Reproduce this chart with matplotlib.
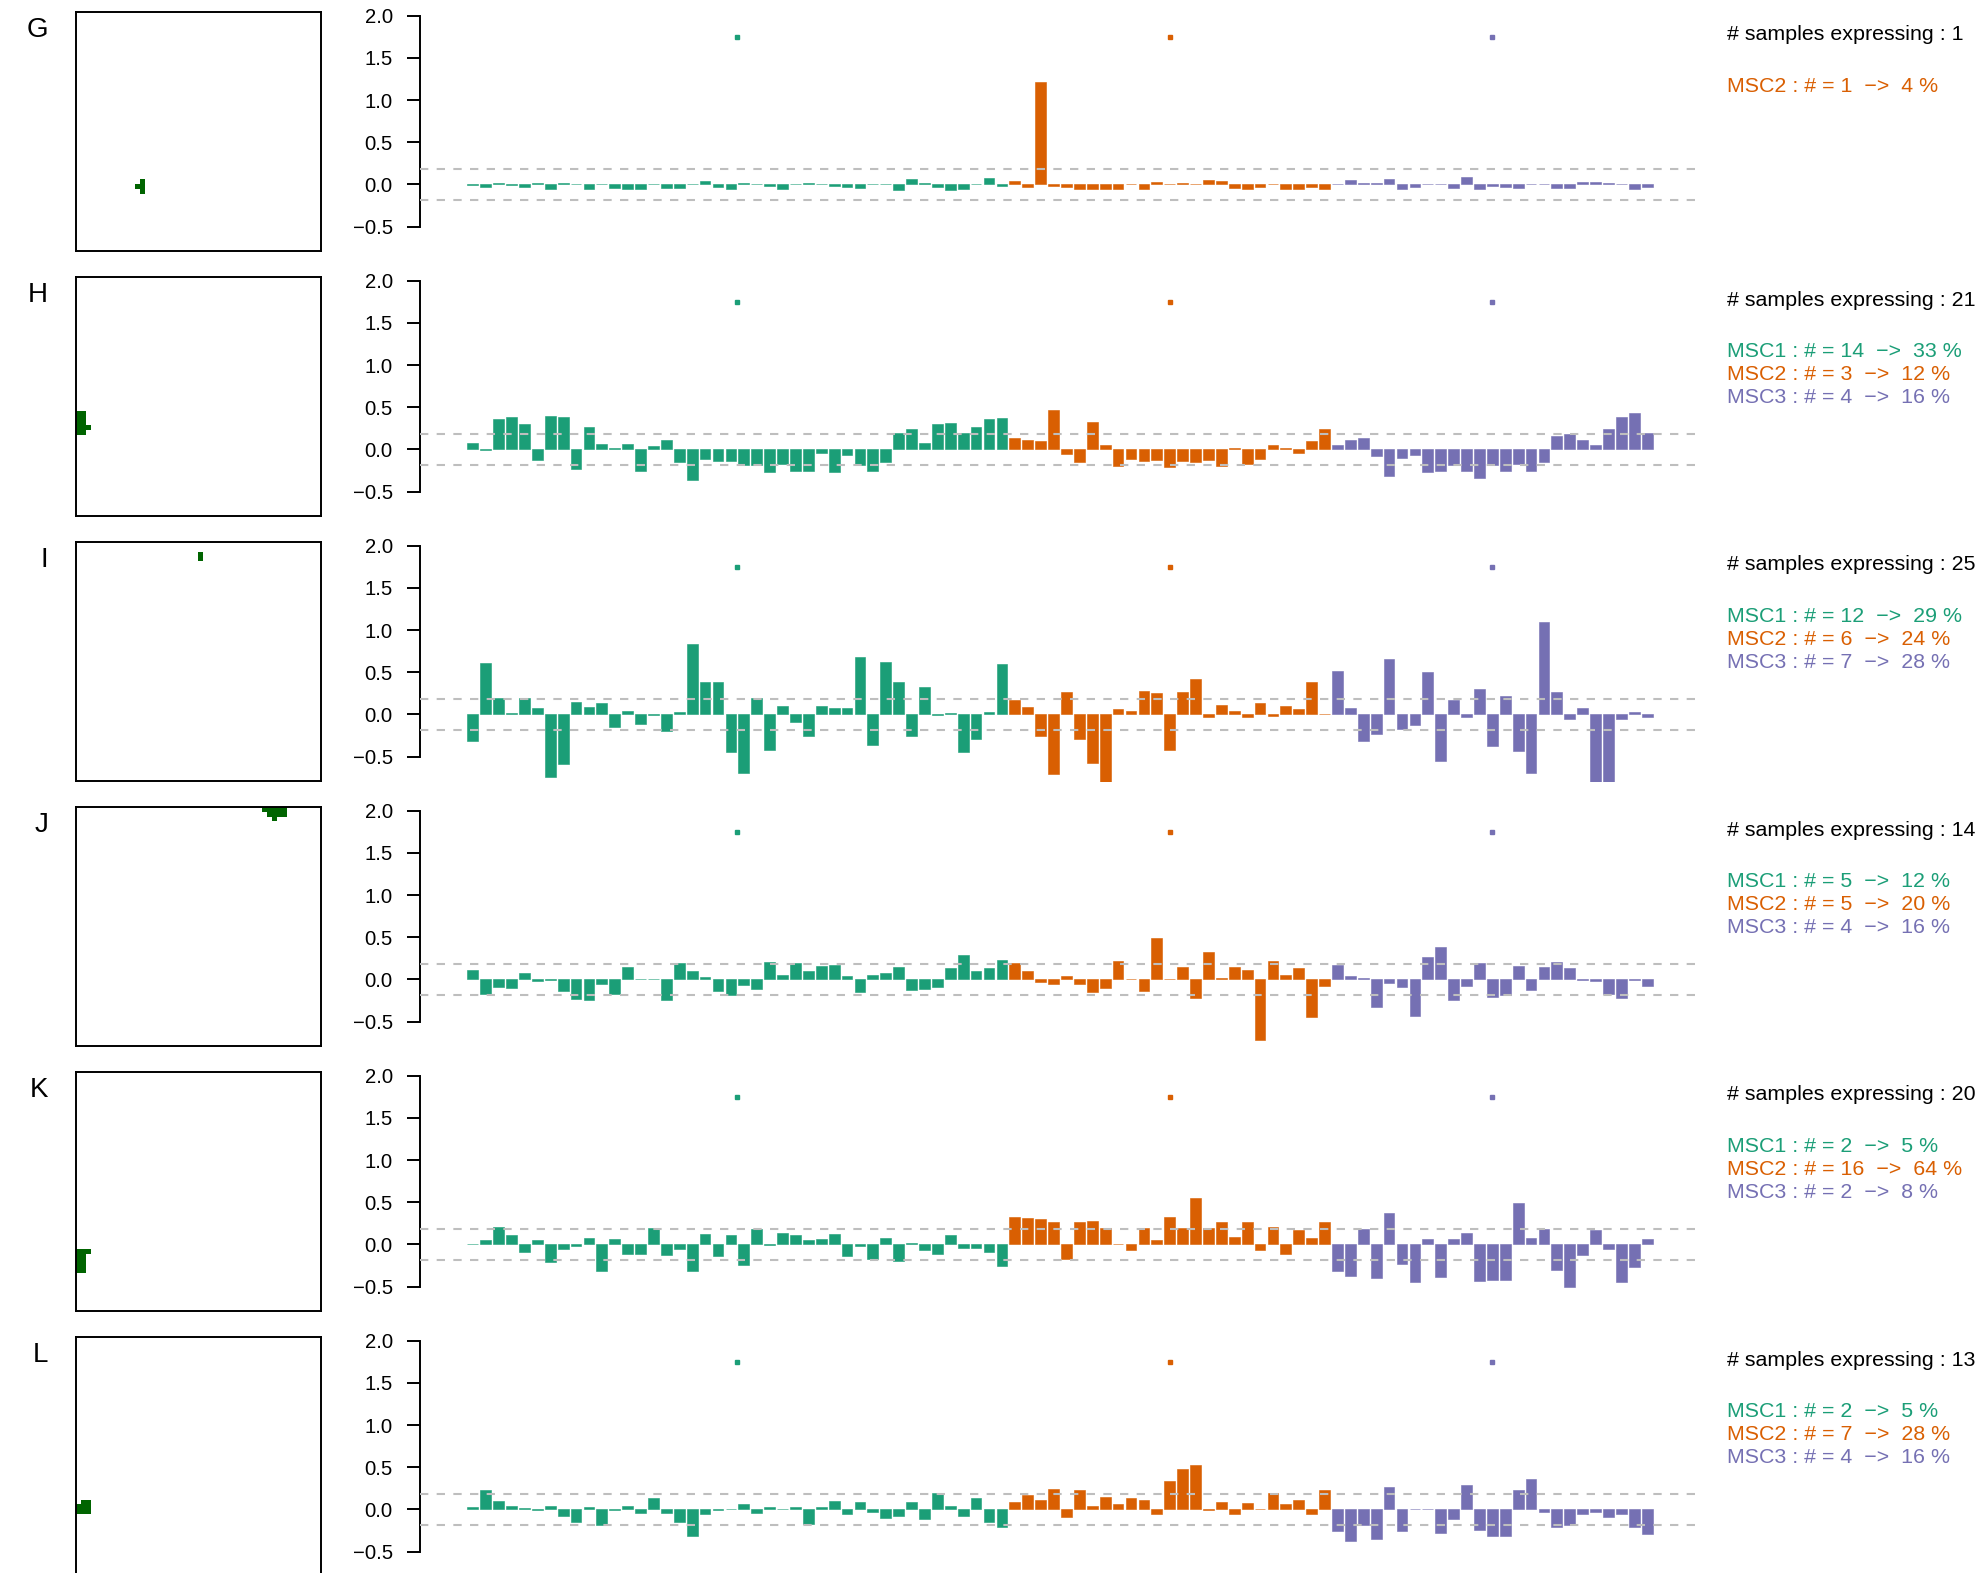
import matplotlib.pyplot as plt
import numpy as np
from matplotlib.colors import ListedColormap

plt.rcParams['font.family'] = ['Liberation Sans', 'DejaVu Sans']

# figure size in pixels, one panel row every 265 px
W, H = 1978, 1573
ROW_STEP = 265

panel_labels = ['G', 'H', 'I', 'J', 'K', 'L']
group_names = ['MSC1', 'MSC2', 'MSC3']
group_colors = ['#1B9E77', '#D95F02', '#7570B3']
group_sizes = [42, 25, 25]

# expression per sample, one list per group and panel
G_msc1 = [-0.01, -0.03, 0.02, -0.01, -0.03, 0.02, -0.05, 0.02, 0.01, -0.05, 0.01, -0.04, -0.05, -0.06,
          0.01, -0.04, -0.04, 0.01, 0.04, -0.03, -0.06, 0.02, 0.01, -0.02, -0.06, 0.01, 0.02, 0.01,
          -0.02, -0.03, -0.04, 0.01, 0.01, -0.07, 0.07, 0.02, -0.03, -0.07, -0.06, 0.01, 0.08, -0.02]
G_msc2 = [0.04, -0.03, 1.21, -0.02, -0.03, -0.05, -0.05, -0.05, -0.05, 0.01, -0.06, 0.03, 0.01,
          0.02, 0.01, 0.05, 0.04, -0.04, -0.05, -0.03, 0.01, -0.05, -0.06, -0.03, -0.05]
G_msc3 = [0.01, 0.05, 0.02, 0.02, 0.07, -0.05, -0.03, 0.01, 0.01, -0.04, 0.09, -0.06, -0.02,
          -0.03, -0.04, 0.01, 0.01, -0.04, -0.04, 0.03, 0.03, 0.02, 0.01, -0.05, -0.03]

H_msc1 = [0.08, -0.01, 0.36, 0.38, 0.30, -0.12, 0.40, 0.38, -0.23, 0.26, 0.06, 0.02, 0.07, -0.25,
          0.04, 0.11, -0.15, -0.36, -0.11, -0.14, -0.14, -0.19, -0.19, -0.27, -0.17, -0.25, -0.25,
          -0.04, -0.27, -0.07, -0.18, -0.26, -0.15, 0.19, 0.24, 0.08, 0.30, 0.31, 0.19, 0.27, 0.36, 0.37]
H_msc2 = [0.14, 0.11, 0.10, 0.47, -0.06, -0.15, 0.33, 0.05, -0.20, -0.11, -0.14, -0.13, -0.21,
          -0.14, -0.15, -0.12, -0.20, 0.02, -0.17, -0.11, 0.05, 0.02, -0.04, 0.10, 0.24]
H_msc3 = [0.05, 0.11, 0.14, -0.08, -0.31, -0.10, -0.07, -0.27, -0.25, -0.18, -0.25, -0.34, -0.18,
          -0.26, -0.17, -0.26, -0.15, 0.16, 0.18, 0.11, 0.05, 0.24, 0.38, 0.43, 0.19]

I_msc1 = [-0.32, 0.61, 0.20, 0.02, 0.19, 0.08, -0.74, -0.59, 0.15, 0.09, 0.14, -0.15, 0.04, -0.11,
          -0.01, -0.20, 0.03, 0.84, 0.38, 0.38, -0.44, -0.70, 0.19, -0.42, 0.10, -0.09, -0.25, 0.10,
          0.08, 0.08, 0.68, -0.36, 0.62, 0.38, -0.26, 0.33, -0.01, 0.02, -0.45, -0.29, 0.03, 0.60]
I_msc2 = [0.17, 0.09, -0.26, -0.71, 0.27, -0.29, -0.58, -0.80, 0.06, 0.04, 0.28, 0.25, -0.42,
          0.27, 0.42, -0.03, 0.11, 0.04, -0.03, 0.14, -0.02, 0.10, 0.06, 0.39, 0.01]
I_msc3 = [0.52, 0.08, -0.32, -0.23, 0.66, -0.17, -0.13, 0.50, -0.55, 0.17, -0.03, 0.30, -0.38,
          0.22, -0.43, -0.69, 1.09, 0.27, -0.05, 0.08, -0.80, -0.80, -0.05, 0.03, -0.03]

J_msc1 = [0.11, -0.17, -0.09, -0.10, 0.08, -0.02, -0.01, -0.14, -0.23, -0.24, -0.06, -0.17, 0.15,
          0.01, 0.01, -0.24, 0.19, 0.10, 0.03, -0.14, -0.19, -0.07, -0.11, 0.21, 0.05, 0.19, 0.10,
          0.16, 0.17, 0.04, -0.15, 0.05, 0.08, 0.15, -0.12, -0.11, -0.09, 0.13, 0.29, 0.10, 0.14, 0.23]
J_msc2 = [0.20, 0.10, -0.03, -0.06, 0.04, -0.06, -0.15, -0.10, 0.22, 0.01, -0.14, 0.49, 0.01,
          0.15, -0.22, 0.32, 0.02, 0.15, 0.11, -0.72, 0.22, 0.05, 0.14, -0.45, -0.08]
J_msc3 = [0.17, 0.04, 0.02, -0.33, -0.04, -0.09, -0.43, 0.27, 0.38, -0.24, -0.08, 0.19, -0.21,
          -0.19, 0.16, -0.12, 0.15, 0.21, 0.14, -0.01, -0.02, -0.17, -0.22, -0.01, -0.08]

K_msc1 = [0.01, 0.05, 0.21, 0.11, -0.09, 0.05, -0.21, -0.05, -0.02, 0.08, -0.32, 0.06, -0.11,
          -0.11, 0.19, -0.12, -0.06, -0.32, 0.12, -0.14, 0.11, -0.24, 0.18, -0.01, 0.13, 0.11, 0.05,
          0.06, 0.12, -0.14, -0.02, -0.17, 0.08, -0.20, 0.02, -0.07, -0.11, 0.11, -0.04, -0.04, -0.09, -0.26]
K_msc2 = [0.32, 0.31, 0.30, 0.26, -0.17, 0.26, 0.28, 0.19, 0.01, -0.07, 0.20, 0.05, 0.33, 0.20,
          0.55, 0.20, 0.26, 0.09, 0.26, -0.07, 0.21, -0.11, 0.17, 0.08, 0.27]
K_msc3 = [-0.32, -0.37, 0.18, -0.40, 0.37, -0.23, -0.44, 0.07, -0.39, 0.06, 0.14, -0.43, -0.42,
          -0.42, 0.49, 0.08, 0.18, -0.30, -0.50, -0.13, 0.17, -0.06, -0.44, -0.27, 0.07]

L_msc1 = [0.03, 0.23, 0.10, 0.04, 0.02, -0.01, 0.04, -0.08, -0.15, 0.03, -0.18, -0.01, 0.04, -0.04,
          0.14, -0.04, -0.15, -0.31, -0.05, -0.01, 0.01, 0.07, -0.04, 0.03, 0.01, 0.03, -0.17, 0.03,
          0.10, -0.06, 0.09, -0.03, -0.10, -0.08, 0.09, -0.11, 0.20, 0.04, -0.08, 0.14, -0.15, -0.21]
L_msc2 = [0.09, 0.17, 0.11, 0.24, -0.09, 0.23, 0.04, 0.15, 0.07, 0.14, 0.11, -0.05, 0.34, 0.48,
          0.53, -0.01, 0.09, -0.06, 0.08, 0.01, 0.19, 0.07, 0.11, -0.06, 0.23]
L_msc3 = [-0.26, -0.37, -0.18, -0.35, 0.26, -0.25, 0.01, 0.01, -0.28, -0.11, 0.29, -0.24, -0.32,
          -0.31, 0.23, 0.36, -0.03, -0.21, -0.18, -0.05, -0.03, -0.09, -0.05, -0.21, -0.29]

# samples above threshold per panel
n_expressing = [1, 21, 25, 14, 20, 13]
msc1_n = [0, 14, 12, 5, 2, 2]
msc2_n = [1, 3, 6, 5, 16, 7]
msc3_n = [0, 4, 7, 4, 2, 4]

# spots on the 50x50 tissue grid, (row, col)
G_spots = [(35, 13), (36, 13), (37, 13), (36, 12)]
H_spots = [(r, c) for r in range(28, 33) for c in (0, 1)] + [(31, 2)]
I_spots = [(2, 25), (3, 25)]
J_spots = [(0, c) for c in range(38, 43)] + [(1, c) for c in range(39, 43)] + [(2, 40)]
K_spots = [(37, 0), (37, 1), (37, 2)] + [(r, c) for r in range(38, 42) for c in (0, 1)]
L_spots = [(34, 1), (34, 2)] + [(r, c) for r in (35, 36) for c in (0, 1, 2)]

threshold = 0.18
marker_y = 1.75
GRID = 50

panel_values = [(G_msc1, G_msc2, G_msc3), (H_msc1, H_msc2, H_msc3), (I_msc1, I_msc2, I_msc3),
                (J_msc1, J_msc2, J_msc3), (K_msc1, K_msc2, K_msc3), (L_msc1, L_msc2, L_msc3)]
panel_spots = [G_spots, H_spots, I_spots, J_spots, K_spots, L_spots]


def px_axes(fig, x0, y0, x1, y1):
    # rectangle given in pixels from the top-left corner
    return fig.add_axes([x0 / W, 1 - y1 / H, (x1 - x0) / W, (y1 - y0) / H])


fig = plt.figure(figsize=(W / 100, H / 100), dpi=100)
spot_cmap = ListedColormap(['white', '#006400'])

n_bars = sum(group_sizes)
pos = 0.7 + 1.2 * np.arange(n_bars)
xr = (0.2, pos[-1] + 0.5)
ext = 0.04 * (xr[1] - xr[0])
bar_cols = sum([[c] * n for c, n in zip(group_colors, group_sizes)], [])
bounds = np.cumsum([0] + group_sizes)
centers = [pos[bounds[k]:bounds[k + 1]].mean() for k in range(3)]

for r, label in enumerate(panel_labels):
    off = r * ROW_STEP

    fig.text(48 / W, 1 - (30 + off) / H, label, ha='right', va='center', fontsize=20)

    # tissue box
    axb = px_axes(fig, 76, 12 + off, 321, 251 + off)
    grid = np.zeros((GRID, GRID))
    for (i, j) in panel_spots[r]:
        grid[i, j] = 1
    axb.imshow(grid, cmap=spot_cmap, vmin=0, vmax=1, interpolation='nearest',
               aspect='auto', extent=(0, GRID, GRID, 0))
    axb.set_xticks([])
    axb.set_yticks([])
    for sp in axb.spines.values():
        sp.set_linewidth(1.4)

    # barplot
    ax = px_axes(fig, 420, 15.7 + off, 1700, 251.9 + off)
    vals = sum([list(v) for v in panel_values[r]], [])
    ax.bar(pos, vals, width=1.0, color=bar_cols, edgecolor=bar_cols, linewidth=0.4, zorder=2)
    ax.axhline(threshold, color='#BEBEBE', lw=1.5, ls=(0, (4, 4)), zorder=3)
    ax.axhline(-threshold, color='#BEBEBE', lw=1.5, ls=(0, (4, 4)), zorder=3)
    for k in range(3):
        ax.plot(centers[k], marker_y, 's', ms=3.4, color=group_colors[k], mec=group_colors[k])
    ax.set_xlim(xr[0] - ext, xr[1] + ext)
    ax.set_ylim(-0.8, 2.0)
    ax.set_yticks([-0.5, 0.0, 0.5, 1.0, 1.5, 2.0])
    ax.set_xticks([])
    for s in ['top', 'right', 'bottom']:
        ax.spines[s].set_visible(False)
    ax.spines['left'].set_bounds(-0.5, 2.0)
    ax.spines['left'].set_linewidth(1.4)
    ax.tick_params(axis='y', length=9.1, width=1.4, pad=10.5, labelsize=14.6)

    # counts on the right
    fig.text(1727 / W, 1 - (35 + off) / H, '# samples expressing : %d' % n_expressing[r],
             ha='left', va='center', fontsize=15.4)
    line = 0
    for k, counts in enumerate([msc1_n, msc2_n, msc3_n]):
        n = counts[r]
        if n == 0:
            continue
        pct = int(round(100.0 * n / group_sizes[k]))
        txt = '%s : # = %d  \u2212>  %d %%' % (group_names[k], n, pct)
        fig.text(1727 / W, 1 - (86.5 + 23 * line + off) / H, txt, ha='left', va='center',
                 fontsize=15.4, color=group_colors[k])
        line += 1

fig.savefig('out.png', dpi=100)
plt.close(fig)
